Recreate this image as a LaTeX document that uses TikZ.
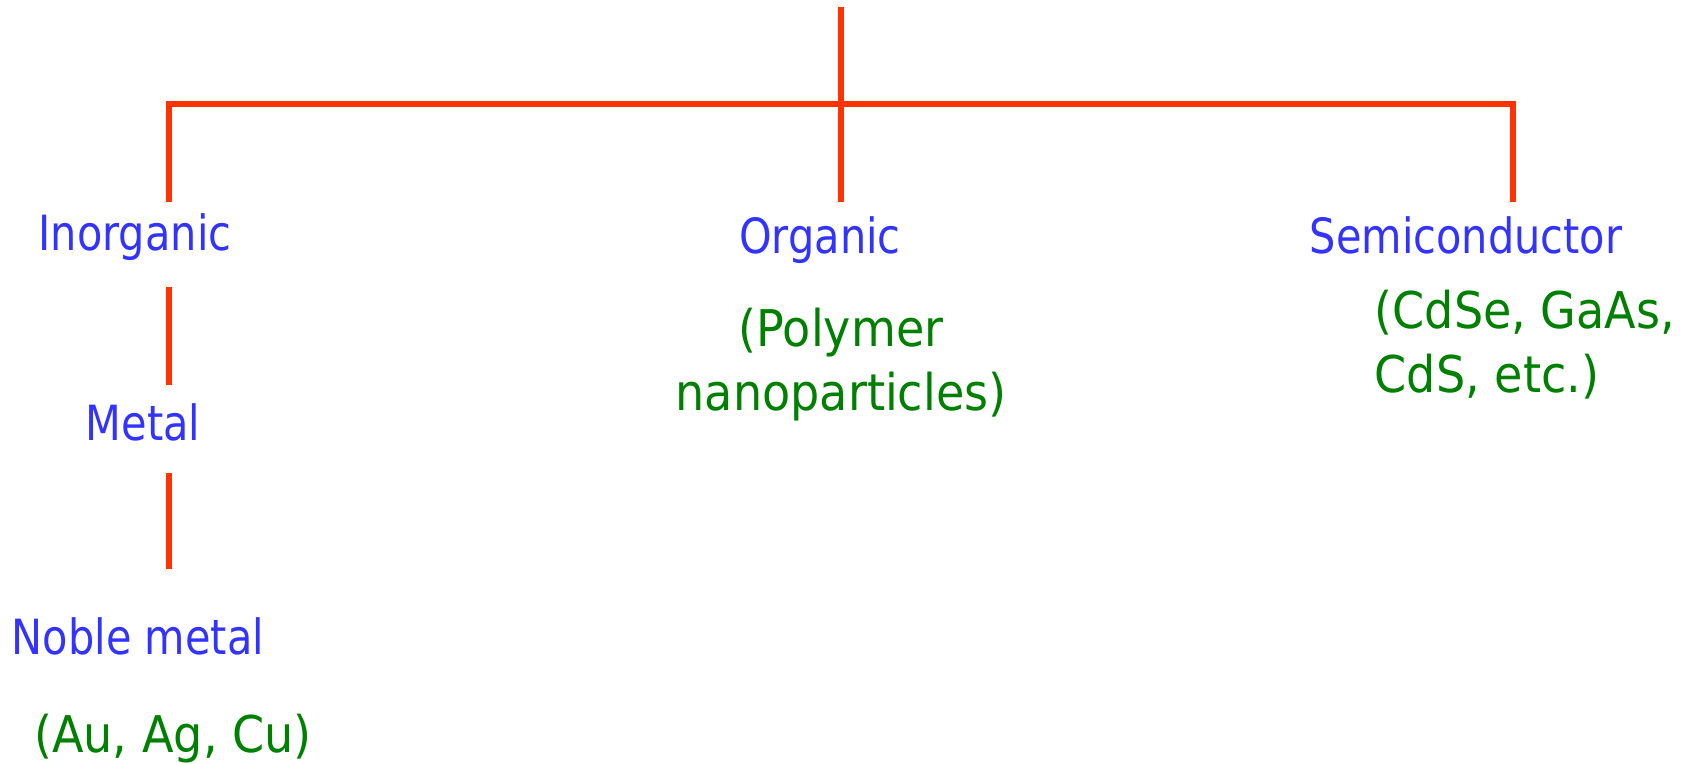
\documentclass[tikz,border=0pt]{standalone}
\usepackage{fontspec}
\usepackage{tikz}
\usetikzlibrary{positioning}
\newfontfamily\catfont[FakeStretch=0.855]{DejaVu Sans}
\newfontfamily\egfont[FakeStretch=0.91]{DejaVu Sans}
\definecolor{treered}{HTML}{FF3300}
\definecolor{catblue}{HTML}{3333FF}
\definecolor{eggreen}{HTML}{008000}
\tikzset{
  branch/.style={draw=treered, line width=1.45pt},
  catlabel/.style={anchor=base, inner sep=0pt, text=catblue,
    font={\catfont\fontsize{13.8}{17}\selectfont}},
  eglabel/.style={anchor=base, inner sep=0pt, text=eggreen,
    font={\egfont\fontsize{14.4}{18.1}\selectfont}}
}
\begin{document}
\begin{tikzpicture}[x=0.01cm,y=-0.01cm]
  \useasboundingbox (0,0) rectangle (1694,763);
  % red tree
  \coordinate (root) at (841,7);
  \coordinate (hub) at (841,104);
  \coordinate (barL) at (169,104);
  \coordinate (barR) at (1513,104);
  \foreach \name/\x in {inorgTop/169,orgTop/841,semiTop/1513}
    \coordinate (\name) at (\x,202);
  \coordinate (inorgLow) at (169,287);
  \coordinate (metalTop) at (169,385);
  \coordinate (metalLow) at (169,473);
  \coordinate (nobleTop) at (169,569);
  \draw[branch] (root) -- (hub);
  \draw[branch] (inorgTop) -- (barL) -- (barR) -- (semiTop);
  \draw[branch] (hub) -- (orgTop);
  \draw[branch] (inorgLow) -- (metalTop);
  \draw[branch] (metalLow) -- (nobleTop);
  % categories
  \node[catlabel] (inorg) at (135,250) {Inorganic};
  \node[catlabel] (metal) at (143,440) {Metal};
  \node[catlabel] (noble) at (138,654) {Noble metal};
  \node[catlabel] (org) at (820,253) {Organic};
  \node[catlabel] (semi) at (1466,253) {Semiconductor};
  % examples (base = last line)
  \node[eglabel] (nobleEg) at (173,752) {(Au, Ag, Cu)};
  \node[eglabel, align=center] (orgEg) at (841,410) {(Polymer\\nanoparticles)};
  \node[eglabel, align=left, anchor=base west] (semiEg) at (1374,392) {(CdSe, GaAs,\\CdS, etc.)};
\end{tikzpicture}
\end{document}
